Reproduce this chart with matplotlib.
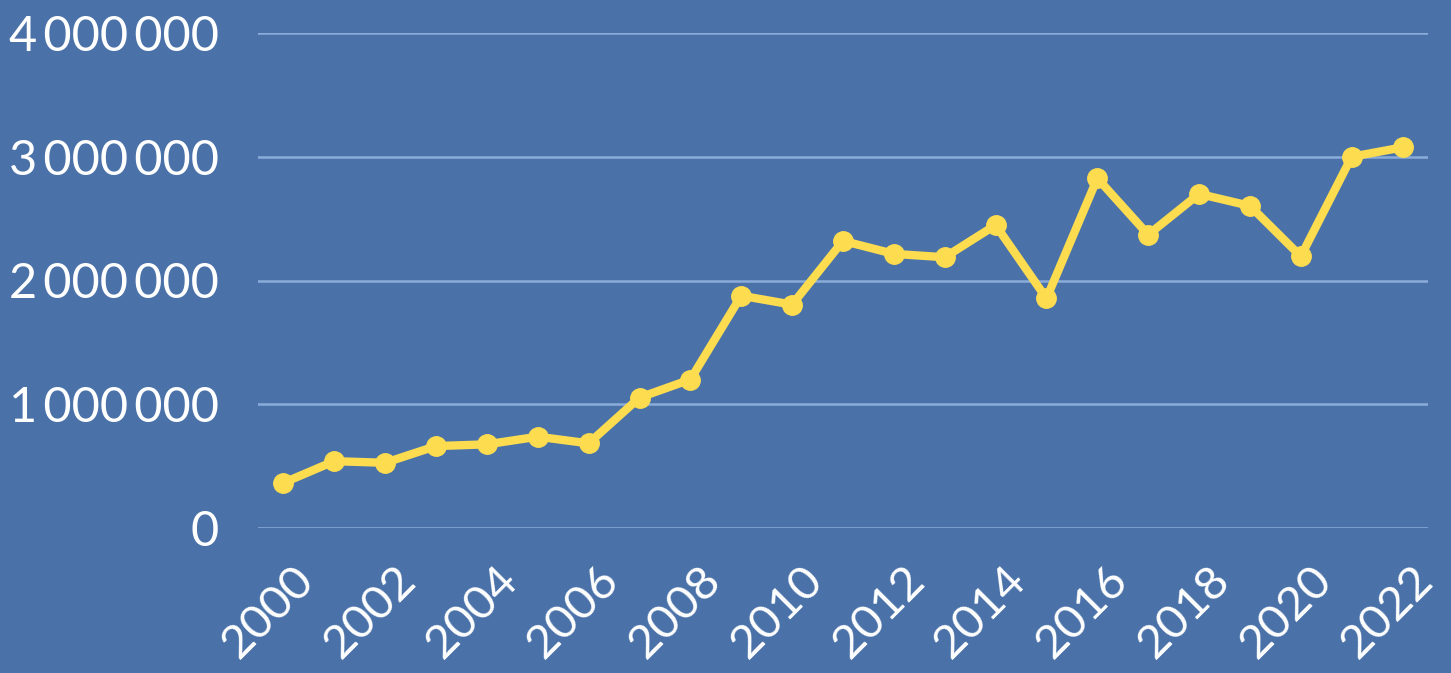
import matplotlib.pyplot as plt
from matplotlib.ticker import FuncFormatter
from matplotlib.transforms import ScaledTranslation

# values
years = list(range(2000, 2023))
values = [365000, 540000, 527000, 662000, 676000, 738000, 684000, 1054000,
          1200000, 1877000, 1805000, 2320000, 2215000, 2188000, 2448000,
          1855000, 2826000, 2370000, 2700000, 2603000, 2195000, 3000000,
          3076000]
y_ticks = [0, 1000000, 2000000, 3000000, 4000000]
x_ticks = list(range(2000, 2023, 2))

bg = "#4A72A9"
yellow = "#FDDC4F"

plt.rcParams['font.family'] = ['Lato', 'DejaVu Sans']

fig = plt.figure(figsize=(14.51, 6.73), dpi=100, facecolor=bg)
ax = fig.add_axes([258 / 1451, 1 - 528 / 673, (1428 - 258) / 1451, (528 - 33) / 673])
ax.set_facecolor(bg)

ax.plot(years, values, color=yellow, lw=6, marker='o', markersize=14,
        solid_joinstyle='round', clip_on=False, zorder=3)

ax.set_xlim(1999.5, 2022.5)
ax.set_ylim(0, 4000000)
ax.set_yticks(y_ticks)
ax.set_xticks(x_ticks)
ax.yaxis.set_major_formatter(FuncFormatter(lambda v, p: f"{int(v):,}".replace(",", "\u2009")))

for s in ax.spines.values():
    s.set_visible(False)
ax.grid(axis='y', color="#8AACD9", lw=1.8)
ax.set_axisbelow(True)

ax.tick_params(axis='y', length=0, pad=28, labelsize=35, labelcolor='white')
ax.tick_params(axis='x', length=0, pad=22, labelsize=34, labelcolor='white')
shift = ScaledTranslation(0.09, 0, fig.dpi_scale_trans)
for lab in ax.get_xticklabels():
    lab.set_rotation(45)
    lab.set_ha('right')
    lab.set_va('top')
    lab.set_rotation_mode('anchor')
    lab.set_transform(lab.get_transform() + shift)

fig.savefig("out.png", dpi=100, facecolor=bg)
